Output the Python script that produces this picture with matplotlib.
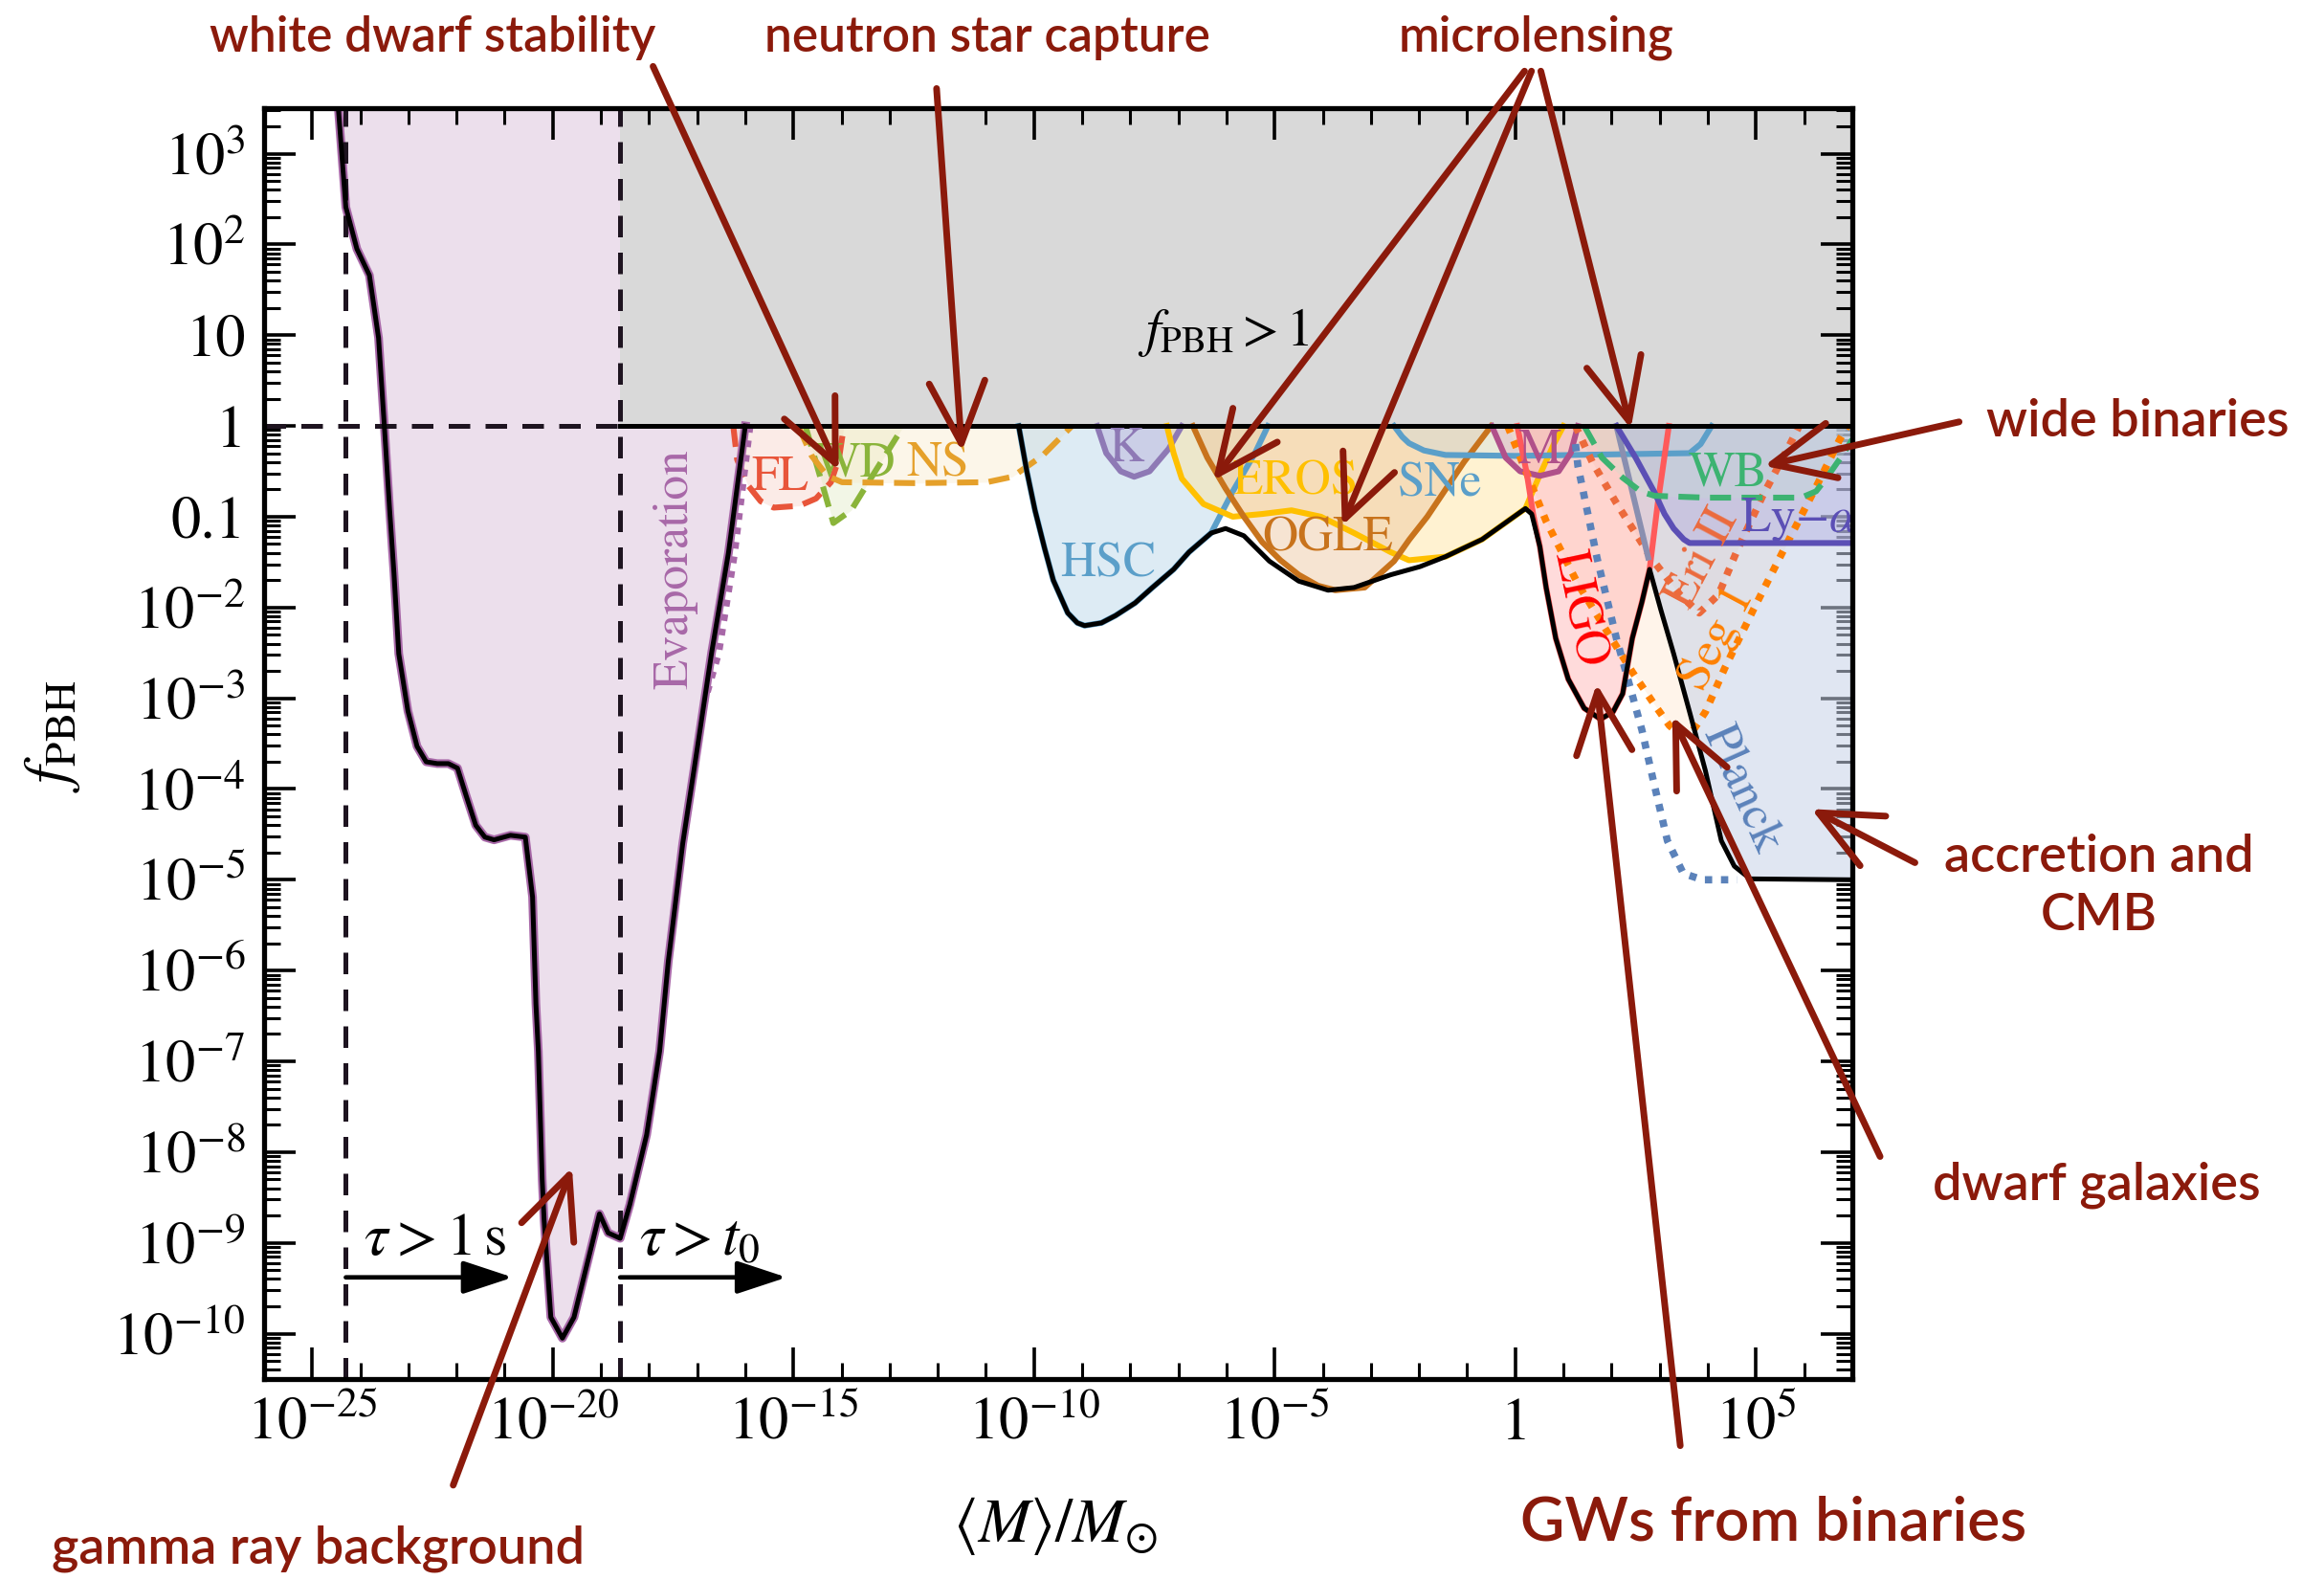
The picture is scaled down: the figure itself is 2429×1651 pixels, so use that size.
import numpy as np
import matplotlib
matplotlib.use("Agg")
import matplotlib.pyplot as plt
from matplotlib import font_manager

plt.rcParams['font.family'] = 'STIXGeneral'
plt.rcParams['mathtext.fontset'] = 'stix'

names = {f.name for f in font_manager.fontManager.ttflist}
note_font = 'Lato' if 'Lato' in names else 'DejaVu Sans'
note_color = '#8b1a0b'

# ---- data: log10(M/Msun), log10(f_PBH) ----
evap_lm = [-24.47, -24.3, -24.07, -23.81, -23.62, -23.5, -23.39, -23.3, -23.2, -23.01, -22.82,
           -22.63, -22.4, -22.17, -21.98, -21.79, -21.6, -21.41, -21.22, -20.88, -20.57, -20.42,
           -20.35, -20.3, -20.22, -20.18, -20.04, -19.8, -19.56, -19.03, -18.85, -18.6, -18.4,
           -18.05, -17.78, -17.6, -17.3, -17.0, -16.7, -16.35, -16.0]
evap_lf = [3.6, 2.41, 1.95, 1.66, 0.97, 0.0, -0.92, -1.62, -2.51, -3.14, -3.53,
           -3.70, -3.72, -3.72, -3.77, -4.09, -4.40, -4.53, -4.56, -4.51, -4.53, -5.19,
           -6.37, -6.89, -8.30, -8.75, -9.82, -10.05, -9.82, -8.68, -8.89, -8.95, -8.58,
           -7.81, -6.89, -5.9, -4.6, -3.56, -2.5, -1.4, 0.0]
evapdot_lm = [-15.9, -16.22, -16.55, -16.85]
evapdot_lf = [0.0, -1.4, -2.5, -3.05]

fl_lm = [-16.25, -16.17, -15.95, -15.68, -15.41, -14.88, -14.53, -14.22, -14.05, -13.95]
fl_lf = [0.0, -0.37, -0.65, -0.83, -0.90, -0.88, -0.80, -0.62, -0.35, 0.0]
wd_lm = [-14.75, -14.45, -14.17, -13.8, -13.3, -12.71]
wd_lf = [0.0, -0.55, -1.07, -0.93, -0.5, 0.0]
ns_lm = [-14.9, -14.62, -14.3, -13.99, -12.5, -10.98, -10.45, -9.83, -9.21]
ns_lf = [0.0, -0.33, -0.55, -0.62, -0.63, -0.62, -0.56, -0.33, 0.0]

hsc_lm = [-10.32, -10.15, -9.98, -9.78, -9.6, -9.3, -9.1, -8.95, -8.6, -8.31, -7.9, -7.54,
          -7.1, -6.78, -6.32, -5.87, -5.41, -5.14]
hsc_lf = [0.0, -0.5, -0.93, -1.35, -1.7, -2.06, -2.17, -2.2, -2.17, -2.09, -1.95, -1.78,
          -1.58, -1.39, -1.18, -0.72, -0.30, 0.0]
k_lm = [-8.69, -8.5, -8.2, -7.92, -7.6, -7.2, -6.93]
k_lf = [0.0, -0.3, -0.5, -0.56, -0.5, -0.25, 0.0]
eros_lm = [-7.24, -7.1, -6.93, -6.48, -5.87, -5.26, -4.65, -4.04, -3.35, -2.59, -2.21, -1.45,
           -0.69, 0.21, 0.5, 0.8, 1.0]
eros_lf = [0.0, -0.3, -0.58, -0.86, -1.0, -0.97, -0.93, -1.0, -1.18, -1.39, -1.48, -1.44,
           -1.25, -0.91, -0.55, -0.2, 0.0]
ogle_lm = [-6.7, -6.4, -6.02, -5.64, -5.26, -4.88, -4.5, -4.1, -3.74, -3.13, -2.52, -2.2,
           -1.83, -1.45, -1.07, -0.5]
ogle_lf = [0.0, -0.35, -0.69, -1.0, -1.28, -1.48, -1.64, -1.76, -1.81, -1.78, -1.49, -1.25,
           -1.0, -0.7, -0.40, 0.0]
sne_lm = [-2.52, -2.35, -2.21, -1.9, -1.45, 0.0, 3.62, 3.85, 4.08]
sne_lf = [0.0, -0.12, -0.19, -0.27, -0.32, -0.33, -0.30, -0.2, 0.0]
macho_lm = [-0.49, -0.2, 0.1, 0.51, 0.9, 1.15, 1.30]
macho_lf = [0.0, -0.35, -0.5, -0.55, -0.5, -0.3, 0.0]
ligo_lm = [0.04, 0.24, 0.37, 0.51, 0.64, 0.84, 1.10, 1.43, 1.77, 2.03, 2.23, 2.43, 2.63, 2.79,
           2.96, 3.19]
ligo_lf = [0.0, -0.53, -0.97, -1.33, -1.78, -2.34, -2.79, -3.11, -3.23, -3.15, -2.95, -2.34,
           -1.94, -1.58, -0.85, 0.0]
wb_lm = [1.43, 1.8, 2.23, 2.6, 2.89, 3.95, 5.94, 6.25, 6.47, 6.8, 7.0]
wb_lf = [0.0, -0.35, -0.57, -0.72, -0.77, -0.79, -0.79, -0.72, -0.57, -0.32, -0.15]
lya_lm = [2.10, 2.5, 2.89, 3.1, 3.29, 3.5, 3.62, 7.0]
lya_lf = [0.0, -0.35, -0.73, -0.97, -1.13, -1.25, -1.29, -1.29]
eri_lm = [1.25, 1.6, 2.1, 2.83, 3.42, 3.82, 4.22, 4.61, 5.14, 5.67, 5.9]
eri_lf = [0.0, -0.4, -0.85, -1.46, -1.86, -2.06, -1.86, -1.37, -0.77, -0.24, 0.0]
seg_lm = [-0.16, 0.64, 1.30, 1.90, 2.43, 2.89, 3.2, 3.42, 3.7, 3.95, 4.35, 4.95, 5.61, 6.27,
          6.73, 6.9]
seg_lf = [0.0, -1.05, -1.74, -2.26, -2.71, -3.07, -3.3, -3.40, -3.35, -3.15, -2.67, -2.02,
          -1.33, -0.65, -0.16, 0.0]
planck_lm = [2.10, 2.76, 2.79, 3.02, 3.29, 3.62, 3.95, 4.28, 4.55, 4.88, 7.0]
planck_lf = [0.0, -1.45, -1.58, -2.02, -2.51, -3.15, -3.80, -4.57, -4.85, -4.99, -5.0]
planckdot_lm = [1.25, 1.30, 1.70, 2.10, 2.36, 2.63, 2.89, 3.16, 3.49, 3.89, 4.61]
planckdot_lf = [-0.2, -0.44, -1.46, -2.34, -2.83, -3.35, -3.96, -4.57, -4.93, -5.0, -5.0]

env_lm = [-10.32, -10.15, -9.98, -9.78, -9.6, -9.3, -9.1, -8.95, -8.6, -8.31, -7.9, -7.54,
          -7.1, -6.78, -6.32, -6.02, -5.64, -5.11, -4.5, -3.89, -3.35, -2.59, -1.98, -1.45,
          -0.69, 0.21, 0.34, 0.51, 0.64, 0.84, 1.10, 1.43, 1.77, 2.03, 2.23, 2.43, 2.63, 2.79,
          3.02, 3.29, 3.62, 3.95, 4.28, 4.55, 4.88, 7.0]
env_lf = [0.0, -0.5, -0.93, -1.35, -1.7, -2.06, -2.17, -2.2, -2.17, -2.09, -1.95, -1.78,
          -1.58, -1.39, -1.18, -1.13, -1.21, -1.49, -1.71, -1.81, -1.78, -1.64, -1.55, -1.44,
          -1.25, -0.91, -0.97, -1.33, -1.78, -2.34, -2.79, -3.11, -3.23, -3.15, -2.95, -2.34,
          -1.94, -1.58, -2.02, -2.51, -3.15, -3.80, -4.57, -4.85, -4.99, -5.0]

x_major = [-25, -20, -15, -10, -5, 0, 5]
x_labels = ['$10^{-25}$', '$10^{-20}$', '$10^{-15}$', '$10^{-10}$', '$10^{-5}$', '1', '$10^{5}$']
y_major = list(range(-10, 4))
y_labels = ['$10^{-10}$', '$10^{-9}$', '$10^{-8}$', '$10^{-7}$', '$10^{-6}$', '$10^{-5}$',
            '$10^{-4}$', '$10^{-3}$', '$10^{-2}$', '0.1', '1', '10', '$10^{2}$', '$10^{3}$']

# lifetime markers
tau_1s = -24.3
tau_t0 = -18.6


def p(v):
    return 10.0 ** np.asarray(v, dtype=float)


fig = plt.figure(figsize=(24.29, 16.51), dpi=100)
ax = fig.add_axes([0.1136, 0.1272, 0.6834, 0.8043])
ax.set_xscale('log')
ax.set_yscale('log')
ax.set_xlim(p(-26), p(7))
ax.set_ylim(p(-10.5), p(3.5))

# evaporation / gamma rays
ev_x = list(evap_lm) + [-16.0, -24.47]
ev_y = list(evap_lf) + [3.6, 3.6]
ax.fill(p(ev_x), p(ev_y), color='#ecdfec', lw=0, zorder=1)
ax.fill_between(p([tau_t0, 7]), 1, p(3.6), color='#d9d9d9', lw=0, zorder=1.5)


def region(lm, lf, line_color, fill_color, alpha, ls='-', lw=4.4, z=2):
    ax.fill_between(p(lm), p(lf), 1, color=fill_color, alpha=alpha, lw=0, zorder=z)
    ax.plot(p(lm), p(lf), color=line_color, ls=ls, lw=lw, zorder=z + 0.5)


dash = (0, (3.6, 1.8))
dots = (0, (1.0, 1.2))
region(fl_lm, fl_lf, '#e8553a', '#f6c8bd', 0.35, ls=dash)
region(wd_lm, wd_lf, '#8ab43a', '#dbe8b8', 0.35, ls=dash)
region(ns_lm, ns_lf, '#e5a02a', '#f8e6c0', 0.35, ls=dash)
region(hsc_lm, hsc_lf, '#5b9fc9', '#bcd8ea', 0.5)
region(k_lm, k_lf, '#8e79b5', '#b7aed8', 0.45)
region(eros_lm, eros_lf, '#ffc000', '#ffe39a', 0.45)
region(ogle_lm, ogle_lf, '#c8731c', '#ecc49c', 0.45)
region(sne_lm, sne_lf, '#5b9fc9', '#bcd8ea', 0.3)
region(macho_lm, macho_lf, '#b0508a', '#d9a0c0', 0.35)
region(seg_lm, seg_lf, '#ff8000', '#ffe2c4', 0.35, ls=dots, lw=5.5)
region(eri_lm, eri_lf, '#ec6a3c', '#f0c8b8', 0.3, ls=dots, lw=5.5)
region(ligo_lm, ligo_lf, '#ff5a5a', '#ffb0b0', 0.45)
ax.fill(p(planck_lm + [7.0]), p(planck_lf + [0.0]), color='#c8d2e8', alpha=0.55, lw=0, zorder=2)
ax.plot(p(planck_lm[:2]), p(planck_lf[:2]), color='#8a8fb0', lw=4.4, zorder=2.5)
region(lya_lm, lya_lf, '#5b4fb5', '#aaa6dc', 0.4)
region(wb_lm, wb_lf, '#3cb371', '#bfe3cc', 0.25, ls=dash)
ax.plot(p(planckdot_lm), p(planckdot_lf), color='#5b82ba', ls=dots, lw=5.5, zorder=2.6)
ax.plot(p(evapdot_lm), p(evapdot_lf), color='#a868a8', ls=dots, lw=5, zorder=2.6)

# envelopes
ax.plot(p(evap_lm), p(evap_lf), color='#a868a8', lw=6.5, zorder=3)
ax.plot(p(evap_lm), p(evap_lf), color='black', lw=3.6, zorder=3.1)
ax.plot(p(env_lm), p(env_lf), color='black', lw=3.6, zorder=3.1)
ax.plot(p([tau_t0, 7]), [1, 1], color='black', lw=3.6, zorder=3.1)
ax.plot(p([-26, tau_t0]), [1, 1], color='#1e1420', lw=3.6, ls=(0, (4.5, 3.2)), zorder=3)
for xv in [tau_1s, tau_t0]:
    ax.plot(p([xv, xv]), p([-10.5, 3.5]), color='#1e1420', lw=3.6, ls=(0, (4.5, 3.2)), zorder=3)

# lifetime arrows
for x0, x1 in [(tau_1s, -20.83), (tau_t0, -15.14)]:
    ax.annotate('', xy=(p(x1), p(-9.38)), xytext=(p(x0), p(-9.38)),
                arrowprops=dict(arrowstyle='-|>,head_length=1.0,head_width=0.33', color='black',
                                lw=3.4, mutation_scale=32, shrinkA=0, shrinkB=0), zorder=4)
ax.text(p(-22.45), p(-8.98), r'$\tau > 1\,\mathrm{s}$', fontsize=45, ha='center', va='center')
ax.text(p(-16.95), p(-8.98), r'$\tau > t_0$', fontsize=45, ha='center', va='center')
ax.text(p(-6.06), p(1.03), r'$f_{\rm PBH} > 1$', fontsize=40, ha='center', va='center', zorder=5)

# region labels
labels = [
    ('Evaporation', -17.45, -1.58, '#a868a8', 90),
    ('FL', -15.28, -0.58, '#e8553a', 0),
    ('WD', -13.72, -0.42, '#8ab43a', 0),
    ('NS', -12.0, -0.42, '#e5a02a', 0),
    ('K', -8.08, -0.26, '#8e79b5', 0),
    ('HSC', -8.46, -1.53, '#5b9fc9', 0),
    ('EROS', -4.57, -0.62, '#ffc000', 0),
    ('SNe', -1.56, -0.65, '#5b9fc9', 0),
    ('OGLE', -3.89, -1.25, '#c8731c', 0),
    ('M', 0.51, -0.28, '#b0508a', 0),
    ('LIGO', 1.30, -2.02, '#ff0000', -78),
    ('WB', 4.42, -0.53, '#3cb371', 0),
    (r'Ly$-\alpha$', 5.9, -1.03, '#5b4fb5', 0),
    ('Eri II', 3.89, -1.46, '#ec6a3c', 62),
    ('Seg 1', 4.22, -2.34, '#ff8000', 62),
    ('Planck', 4.68, -4.0, '#5b82ba', -66),
]
for txt, lm, lf, col, rot in labels:
    ax.text(p(lm), p(lf), txt, color=col, fontsize=37, rotation=rot, ha='center', va='center',
            rotation_mode='anchor', zorder=5, clip_on=True)

# axes styling
ax.set_xticks(p(x_major))
ax.set_xticklabels(x_labels)
ax.set_xticks(p(range(-26, 8)), minor=True)
ax.set_xticklabels([], minor=True)
ax.set_yticks(p(y_major))
ax.set_yticklabels(y_labels)
ax.yaxis.set_minor_locator(matplotlib.ticker.LogLocator(base=10, subs=np.arange(2, 10), numticks=100))
ax.yaxis.set_minor_formatter(matplotlib.ticker.NullFormatter())
ax.tick_params(which='both', direction='in', top=True, right=True, labelsize=45, zorder=6)
ax.tick_params(which='major', length=24, width=2.6, pad=14)
ax.tick_params(which='minor', length=12, width=2.2)
for s in ax.spines.values():
    s.set_linewidth(3.8)
    s.set_zorder(6)

fig.text(0.0225, 0.534, r'$f_{\rm PBH}$', fontsize=47, rotation=90, ha='center', va='center')
fig.text(0.454, 0.034, r'$\langle M\rangle/M_{\odot}$', fontsize=47, ha='center', va='center')

# hand-drawn style notes
notes = [
    ('white dwarf stability', 0.186, 0.976, 37),
    ('neutron star capture', 0.425, 0.976, 37),
    ('microlensing', 0.661, 0.976, 37),
    ('wide binaries', 0.920, 0.733, 39),
    ('accretion and\nCMB', 0.903, 0.439, 39),
    ('dwarf galaxies', 0.902, 0.250, 39),
    ('GWs from binaries', 0.763, 0.036, 46),
    ('gamma ray background', 0.137, 0.020, 39),
]
for txt, fx, fy, fs in notes:
    fig.text(fx, fy, txt, color=note_color, fontsize=fs, family=note_font, weight='semibold',
             ha='center', va='center', linespacing=1.3)

# arrows: tail in figure fraction, head in data coordinates
arrows = [
    (0.281, 0.958, -14.06, -0.49),
    (0.403, 0.944, -11.5, -0.28),
    (0.656, 0.955, -6.28, -0.60),
    (0.659, 0.955, -3.6, -1.10),
    (0.663, 0.955, 2.4, -0.03),
    (0.843, 0.733, 5.17, -0.44),
    (0.824, 0.454, 6.15, -4.22),
    (0.809, 0.268, 3.26, -3.20),
    (0.723, 0.085, 1.69, -2.84),
    (0.195, 0.060, -19.6, -8.17),
]
for fx, fy, lm, lf in arrows:
    ax.annotate('', xy=(p(lm), p(lf)), xycoords='data', xytext=(fx, fy),
                textcoords='figure fraction', annotation_clip=False,
                arrowprops=dict(arrowstyle='->,head_length=1.1,head_width=0.5',
                                color=note_color, lw=5, mutation_scale=42,
                                shrinkA=0, shrinkB=0), zorder=7)

fig.savefig('out.png', dpi=100)
